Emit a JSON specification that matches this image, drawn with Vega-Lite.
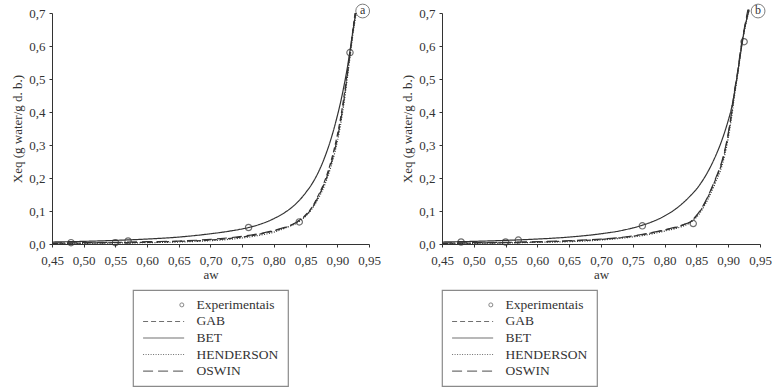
{
  "$schema": "https://vega.github.io/schema/vega-lite/v6.json",
  "background": "white",
  "padding": {"left": 11, "top": 2, "right": 5, "bottom": 0},
  "config": {
    "view": {"stroke": null},
    "font": "Liberation Serif",
    "axisX": {
      "grid": false, "domainColor": "#333", "tickColor": "#333", "tickSize": 3,
      "labelFont": "Liberation Serif", "labelFontSize": 13, "labelColor": "#333",
      "labelOverlap": false, "labelFlush": false, "labelPadding": 7,
      "titleFont": "Liberation Serif", "titleFontSize": 13, "titleFontWeight": "normal", "titleColor": "#333", "titlePadding": 1
    },
    "axisY": {
      "grid": false, "domainColor": "#333", "tickColor": "#333", "tickSize": 3,
      "labelFont": "Liberation Serif", "labelFontSize": 13, "labelColor": "#333",
      "labelOverlap": false, "labelFlush": false, "labelPadding": 4,
      "titleFont": "Liberation Serif", "titleFontSize": 13, "titleFontWeight": "normal", "titleColor": "#333", "titlePadding": 4
    },
    "text": {"font": "Liberation Serif", "fontSize": 13, "color": "#333"}
  },
  "datasets": {
    "curves": [
      {"p":"a","m":"BET","aw":0.45,"x":0.006},{"p":"a","m":"BET","aw":0.50,"x":0.008},{"p":"a","m":"BET","aw":0.55,"x":0.011},{"p":"a","m":"BET","aw":0.60,"x":0.015},{"p":"a","m":"BET","aw":0.65,"x":0.021},{"p":"a","m":"BET","aw":0.70,"x":0.031},{"p":"a","m":"BET","aw":0.73,"x":0.039},{"p":"a","m":"BET","aw":0.76,"x":0.050},{"p":"a","m":"BET","aw":0.78,"x":0.061},{"p":"a","m":"BET","aw":0.80,"x":0.077},{"p":"a","m":"BET","aw":0.82,"x":0.099},{"p":"a","m":"BET","aw":0.84,"x":0.132},{"p":"a","m":"BET","aw":0.85,"x":0.155},{"p":"a","m":"BET","aw":0.86,"x":0.182},{"p":"a","m":"BET","aw":0.87,"x":0.217},{"p":"a","m":"BET","aw":0.88,"x":0.262},{"p":"a","m":"BET","aw":0.89,"x":0.318},{"p":"a","m":"BET","aw":0.90,"x":0.388},{"p":"a","m":"BET","aw":0.905,"x":0.428},{"p":"a","m":"BET","aw":0.91,"x":0.474},{"p":"a","m":"BET","aw":0.915,"x":0.525},{"p":"a","m":"BET","aw":0.92,"x":0.585},{"p":"a","m":"BET","aw":0.925,"x":0.650},{"p":"a","m":"BET","aw":0.929,"x":0.700},

      {"p":"a","m":"GAB","aw":0.45,"x":0.002},{"p":"a","m":"GAB","aw":0.50,"x":0.003},{"p":"a","m":"GAB","aw":0.55,"x":0.004},{"p":"a","m":"GAB","aw":0.60,"x":0.005},{"p":"a","m":"GAB","aw":0.65,"x":0.008},{"p":"a","m":"GAB","aw":0.70,"x":0.012},{"p":"a","m":"GAB","aw":0.74,"x":0.019},{"p":"a","m":"GAB","aw":0.77,"x":0.027},{"p":"a","m":"GAB","aw":0.80,"x":0.040},{"p":"a","m":"GAB","aw":0.83,"x":0.060},{"p":"a","m":"GAB","aw":0.84,"x":0.072},{"p":"a","m":"GAB","aw":0.85,"x":0.088},{"p":"a","m":"GAB","aw":0.86,"x":0.111},{"p":"a","m":"GAB","aw":0.87,"x":0.147},{"p":"a","m":"GAB","aw":0.88,"x":0.190},{"p":"a","m":"GAB","aw":0.89,"x":0.250},{"p":"a","m":"GAB","aw":0.90,"x":0.330},{"p":"a","m":"GAB","aw":0.905,"x":0.380},{"p":"a","m":"GAB","aw":0.91,"x":0.440},{"p":"a","m":"GAB","aw":0.915,"x":0.510},{"p":"a","m":"GAB","aw":0.92,"x":0.580},{"p":"a","m":"GAB","aw":0.925,"x":0.655},{"p":"a","m":"GAB","aw":0.928,"x":0.700},

      {"p":"a","m":"HENDERSON","aw":0.45,"x":0.001},{"p":"a","m":"HENDERSON","aw":0.50,"x":0.002},{"p":"a","m":"HENDERSON","aw":0.55,"x":0.003},{"p":"a","m":"HENDERSON","aw":0.60,"x":0.004},{"p":"a","m":"HENDERSON","aw":0.65,"x":0.006},{"p":"a","m":"HENDERSON","aw":0.70,"x":0.010},{"p":"a","m":"HENDERSON","aw":0.74,"x":0.016},{"p":"a","m":"HENDERSON","aw":0.77,"x":0.024},{"p":"a","m":"HENDERSON","aw":0.80,"x":0.036},{"p":"a","m":"HENDERSON","aw":0.82,"x":0.050},{"p":"a","m":"HENDERSON","aw":0.84,"x":0.068},{"p":"a","m":"HENDERSON","aw":0.85,"x":0.084},{"p":"a","m":"HENDERSON","aw":0.86,"x":0.106},{"p":"a","m":"HENDERSON","aw":0.87,"x":0.138},{"p":"a","m":"HENDERSON","aw":0.88,"x":0.178},{"p":"a","m":"HENDERSON","aw":0.89,"x":0.235},{"p":"a","m":"HENDERSON","aw":0.90,"x":0.310},{"p":"a","m":"HENDERSON","aw":0.905,"x":0.360},{"p":"a","m":"HENDERSON","aw":0.91,"x":0.420},{"p":"a","m":"HENDERSON","aw":0.915,"x":0.490},{"p":"a","m":"HENDERSON","aw":0.92,"x":0.565},{"p":"a","m":"HENDERSON","aw":0.925,"x":0.640},{"p":"a","m":"HENDERSON","aw":0.93,"x":0.700},

      {"p":"a","m":"OSWIN","aw":0.45,"x":0.003},{"p":"a","m":"OSWIN","aw":0.50,"x":0.004},{"p":"a","m":"OSWIN","aw":0.55,"x":0.005},{"p":"a","m":"OSWIN","aw":0.60,"x":0.007},{"p":"a","m":"OSWIN","aw":0.65,"x":0.009},{"p":"a","m":"OSWIN","aw":0.70,"x":0.014},{"p":"a","m":"OSWIN","aw":0.74,"x":0.021},{"p":"a","m":"OSWIN","aw":0.77,"x":0.029},{"p":"a","m":"OSWIN","aw":0.80,"x":0.041},{"p":"a","m":"OSWIN","aw":0.83,"x":0.060},{"p":"a","m":"OSWIN","aw":0.84,"x":0.071},{"p":"a","m":"OSWIN","aw":0.85,"x":0.086},{"p":"a","m":"OSWIN","aw":0.86,"x":0.108},{"p":"a","m":"OSWIN","aw":0.87,"x":0.143},{"p":"a","m":"OSWIN","aw":0.88,"x":0.185},{"p":"a","m":"OSWIN","aw":0.89,"x":0.242},{"p":"a","m":"OSWIN","aw":0.90,"x":0.320},{"p":"a","m":"OSWIN","aw":0.905,"x":0.370},{"p":"a","m":"OSWIN","aw":0.91,"x":0.430},{"p":"a","m":"OSWIN","aw":0.915,"x":0.500},{"p":"a","m":"OSWIN","aw":0.92,"x":0.575},{"p":"a","m":"OSWIN","aw":0.925,"x":0.650},{"p":"a","m":"OSWIN","aw":0.929,"x":0.700},

      {"p":"b","m":"BET","aw":0.45,"x":0.006},{"p":"b","m":"BET","aw":0.50,"x":0.008},{"p":"b","m":"BET","aw":0.55,"x":0.011},{"p":"b","m":"BET","aw":0.60,"x":0.015},{"p":"b","m":"BET","aw":0.65,"x":0.021},{"p":"b","m":"BET","aw":0.70,"x":0.031},{"p":"b","m":"BET","aw":0.73,"x":0.040},{"p":"b","m":"BET","aw":0.765,"x":0.057},{"p":"b","m":"BET","aw":0.78,"x":0.067},{"p":"b","m":"BET","aw":0.80,"x":0.085},{"p":"b","m":"BET","aw":0.82,"x":0.110},{"p":"b","m":"BET","aw":0.84,"x":0.145},{"p":"b","m":"BET","aw":0.85,"x":0.166},{"p":"b","m":"BET","aw":0.86,"x":0.193},{"p":"b","m":"BET","aw":0.87,"x":0.226},{"p":"b","m":"BET","aw":0.88,"x":0.266},{"p":"b","m":"BET","aw":0.89,"x":0.314},{"p":"b","m":"BET","aw":0.90,"x":0.374},{"p":"b","m":"BET","aw":0.905,"x":0.410},{"p":"b","m":"BET","aw":0.91,"x":0.460},{"p":"b","m":"BET","aw":0.915,"x":0.520},{"p":"b","m":"BET","aw":0.92,"x":0.585},{"p":"b","m":"BET","aw":0.925,"x":0.645},{"p":"b","m":"BET","aw":0.933,"x":0.710},

      {"p":"b","m":"GAB","aw":0.45,"x":0.002},{"p":"b","m":"GAB","aw":0.50,"x":0.003},{"p":"b","m":"GAB","aw":0.55,"x":0.004},{"p":"b","m":"GAB","aw":0.60,"x":0.006},{"p":"b","m":"GAB","aw":0.65,"x":0.009},{"p":"b","m":"GAB","aw":0.70,"x":0.014},{"p":"b","m":"GAB","aw":0.74,"x":0.021},{"p":"b","m":"GAB","aw":0.77,"x":0.030},{"p":"b","m":"GAB","aw":0.80,"x":0.042},{"p":"b","m":"GAB","aw":0.83,"x":0.058},{"p":"b","m":"GAB","aw":0.84,"x":0.066},{"p":"b","m":"GAB","aw":0.85,"x":0.085},{"p":"b","m":"GAB","aw":0.86,"x":0.112},{"p":"b","m":"GAB","aw":0.87,"x":0.150},{"p":"b","m":"GAB","aw":0.88,"x":0.195},{"p":"b","m":"GAB","aw":0.89,"x":0.245},{"p":"b","m":"GAB","aw":0.90,"x":0.330},{"p":"b","m":"GAB","aw":0.905,"x":0.390},{"p":"b","m":"GAB","aw":0.91,"x":0.460},{"p":"b","m":"GAB","aw":0.915,"x":0.520},{"p":"b","m":"GAB","aw":0.92,"x":0.590},{"p":"b","m":"GAB","aw":0.925,"x":0.645},{"p":"b","m":"GAB","aw":0.932,"x":0.710},

      {"p":"b","m":"HENDERSON","aw":0.45,"x":0.001},{"p":"b","m":"HENDERSON","aw":0.50,"x":0.002},{"p":"b","m":"HENDERSON","aw":0.55,"x":0.003},{"p":"b","m":"HENDERSON","aw":0.60,"x":0.005},{"p":"b","m":"HENDERSON","aw":0.65,"x":0.007},{"p":"b","m":"HENDERSON","aw":0.70,"x":0.012},{"p":"b","m":"HENDERSON","aw":0.74,"x":0.019},{"p":"b","m":"HENDERSON","aw":0.77,"x":0.027},{"p":"b","m":"HENDERSON","aw":0.80,"x":0.039},{"p":"b","m":"HENDERSON","aw":0.83,"x":0.055},{"p":"b","m":"HENDERSON","aw":0.84,"x":0.064},{"p":"b","m":"HENDERSON","aw":0.85,"x":0.081},{"p":"b","m":"HENDERSON","aw":0.86,"x":0.107},{"p":"b","m":"HENDERSON","aw":0.87,"x":0.143},{"p":"b","m":"HENDERSON","aw":0.88,"x":0.186},{"p":"b","m":"HENDERSON","aw":0.89,"x":0.236},{"p":"b","m":"HENDERSON","aw":0.90,"x":0.320},{"p":"b","m":"HENDERSON","aw":0.905,"x":0.380},{"p":"b","m":"HENDERSON","aw":0.91,"x":0.450},{"p":"b","m":"HENDERSON","aw":0.915,"x":0.515},{"p":"b","m":"HENDERSON","aw":0.92,"x":0.585},{"p":"b","m":"HENDERSON","aw":0.925,"x":0.640},{"p":"b","m":"HENDERSON","aw":0.933,"x":0.710},

      {"p":"b","m":"OSWIN","aw":0.45,"x":0.003},{"p":"b","m":"OSWIN","aw":0.50,"x":0.004},{"p":"b","m":"OSWIN","aw":0.55,"x":0.005},{"p":"b","m":"OSWIN","aw":0.60,"x":0.007},{"p":"b","m":"OSWIN","aw":0.65,"x":0.010},{"p":"b","m":"OSWIN","aw":0.70,"x":0.015},{"p":"b","m":"OSWIN","aw":0.74,"x":0.022},{"p":"b","m":"OSWIN","aw":0.77,"x":0.031},{"p":"b","m":"OSWIN","aw":0.80,"x":0.043},{"p":"b","m":"OSWIN","aw":0.83,"x":0.059},{"p":"b","m":"OSWIN","aw":0.84,"x":0.067},{"p":"b","m":"OSWIN","aw":0.85,"x":0.086},{"p":"b","m":"OSWIN","aw":0.86,"x":0.114},{"p":"b","m":"OSWIN","aw":0.87,"x":0.152},{"p":"b","m":"OSWIN","aw":0.88,"x":0.198},{"p":"b","m":"OSWIN","aw":0.89,"x":0.250},{"p":"b","m":"OSWIN","aw":0.90,"x":0.335},{"p":"b","m":"OSWIN","aw":0.905,"x":0.395},{"p":"b","m":"OSWIN","aw":0.91,"x":0.465},{"p":"b","m":"OSWIN","aw":0.915,"x":0.525},{"p":"b","m":"OSWIN","aw":0.92,"x":0.595},{"p":"b","m":"OSWIN","aw":0.925,"x":0.650},{"p":"b","m":"OSWIN","aw":0.931,"x":0.710}
    ],
    "points": [
      {"p":"a","aw":0.48,"x":0.004},{"p":"a","aw":0.55,"x":0.004},{"p":"a","aw":0.57,"x":0.009},{"p":"a","aw":0.76,"x":0.050},{"p":"a","aw":0.84,"x":0.067},{"p":"a","aw":0.92,"x":0.580},
      {"p":"b","aw":0.48,"x":0.006},{"p":"b","aw":0.55,"x":0.006},{"p":"b","aw":0.57,"x":0.012},{"p":"b","aw":0.765,"x":0.055},{"p":"b","aw":0.845,"x":0.062},{"p":"b","aw":0.925,"x":0.613}
    ],
    "tags": [
      {"p":"a","tag":"a"},
      {"p":"b","tag":"b"}
    ],
    "legend": [
      {"label":"Experimentais","kind":"point"},
      {"label":"GAB","kind":"line"},
      {"label":"BET","kind":"line"},
      {"label":"HENDERSON","kind":"line"},
      {"label":"OSWIN","kind":"line"}
    ]
  },
  "columns": 2,
  "spacing": {"row": 46, "column": 73},
  "bounds": "flush",
  "center": true,
  "concat": [
    {
      "width": 317,
      "height": 231,
      "layer": [
        {
          "data": {"name": "curves"},
          "transform": [{"filter": "datum.p == 'a'"}],
          "mark": {"type": "line", "interpolate": "monotone", "strokeWidth": 1.2, "color": "#333"},
          "encoding": {
            "x": {"field": "aw", "type": "quantitative", "scale": {"domain": [0.45, 0.95], "nice": false},
                  "axis": {"title": "aw", "values": [0.45,0.5,0.55,0.6,0.65,0.7,0.75,0.8,0.85,0.9,0.95], "tickCount": 20, "labelExpr": "replace(format(datum.value, '.2f'), '.', ',')", "labelOverlap": false}},
            "y": {"field": "x", "type": "quantitative", "scale": {"domain": [0, 0.7], "nice": false},
                  "axis": {"title": "Xeq (g water/g d. b.)", "values": [0,0.1,0.2,0.3,0.4,0.5,0.6,0.7], "tickCount": 20, "labelExpr": "replace(format(datum.value, '.1f'), '.', ',')", "labelOverlap": false}},
            "strokeDash": {"field": "m", "type": "nominal", "legend": null,
                           "scale": {"domain": ["GAB","BET","HENDERSON","OSWIN"], "range": [[5,3],[1,0],[1,1.5],[10,5]]}}
          }
        },
        {
          "data": {"name": "points"},
          "transform": [{"filter": "datum.p == 'a'"}],
          "mark": {"type": "point", "shape": "circle", "filled": false, "size": 40, "stroke": "#333", "strokeWidth": 1.2},
          "encoding": {
            "x": {"field": "aw", "type": "quantitative"},
            "y": {"field": "x", "type": "quantitative"}
          }
        },
        {
          "data": {"name": "tags"},
          "transform": [{"filter": "datum.p == 'a'"}],
          "mark": {"type": "point", "shape": "circle", "filled": false, "size": 190, "stroke": "#333", "strokeWidth": 0.9},
          "encoding": {"x": {"datum": 0.94}, "y": {"datum": 0.706}}
        },
        {
          "data": {"name": "tags"},
          "transform": [{"filter": "datum.p == 'a'"}],
          "mark": {"type": "text", "fontSize": 12, "baseline": "middle", "align": "center", "dy": -1},
          "encoding": {"x": {"datum": 0.94}, "y": {"datum": 0.706}, "text": {"field": "tag"}}
        }
      ]
    },
    {
      "width": 318,
      "height": 231,
      "layer": [
        {
          "data": {"name": "curves"},
          "transform": [{"filter": "datum.p == 'b'"}],
          "mark": {"type": "line", "interpolate": "monotone", "strokeWidth": 1.2, "color": "#333"},
          "encoding": {
            "x": {"field": "aw", "type": "quantitative", "scale": {"domain": [0.45, 0.95], "nice": false},
                  "axis": {"title": "aw", "values": [0.45,0.5,0.55,0.6,0.65,0.7,0.75,0.8,0.85,0.9,0.95], "tickCount": 20, "labelExpr": "replace(format(datum.value, '.2f'), '.', ',')", "labelOverlap": false}},
            "y": {"field": "x", "type": "quantitative", "scale": {"domain": [0, 0.7], "nice": false},
                  "axis": {"title": "Xeq (g water/g d. b.)", "values": [0,0.1,0.2,0.3,0.4,0.5,0.6,0.7], "tickCount": 20, "labelExpr": "replace(format(datum.value, '.1f'), '.', ',')", "labelOverlap": false}},
            "strokeDash": {"field": "m", "type": "nominal", "legend": null,
                           "scale": {"domain": ["GAB","BET","HENDERSON","OSWIN"], "range": [[5,3],[1,0],[1,1.5],[10,5]]}}
          }
        },
        {
          "data": {"name": "points"},
          "transform": [{"filter": "datum.p == 'b'"}],
          "mark": {"type": "point", "shape": "circle", "filled": false, "size": 40, "stroke": "#333", "strokeWidth": 1.2},
          "encoding": {
            "x": {"field": "aw", "type": "quantitative"},
            "y": {"field": "x", "type": "quantitative"}
          }
        },
        {
          "data": {"name": "tags"},
          "transform": [{"filter": "datum.p == 'b'"}],
          "mark": {"type": "point", "shape": "circle", "filled": false, "size": 190, "stroke": "#333", "strokeWidth": 0.9},
          "encoding": {"x": {"datum": 0.947}, "y": {"datum": 0.706}}
        },
        {
          "data": {"name": "tags"},
          "transform": [{"filter": "datum.p == 'b'"}],
          "mark": {"type": "text", "fontSize": 12, "baseline": "middle", "align": "center", "dy": -1},
          "encoding": {"x": {"datum": 0.947}, "y": {"datum": 0.706}, "text": {"field": "tag"}}
        }
      ]
    },
    {
      "width": 155,
      "height": 96,
      "view": {"stroke": "#8a8a8a", "strokeWidth": 1.2},
      "data": {"name": "legend"},
      "encoding": {
        "y": {"field": "label", "type": "nominal", "axis": null,
              "scale": {"type": "point", "padding": 0.9, "domain": ["Experimentais","GAB","BET","HENDERSON","OSWIN"]}}
      },
      "layer": [
        {
          "transform": [{"filter": "datum.kind == 'line'"}],
          "mark": {"type": "rule", "color": "#707070", "strokeWidth": 1.1},
          "encoding": {
            "x": {"datum": 0.065, "type": "quantitative", "scale": {"domain": [0, 1]}, "axis": null},
            "x2": {"datum": 0.33},
            "strokeDash": {"field": "label", "type": "nominal", "legend": null,
                           "scale": {"domain": ["GAB","BET","HENDERSON","OSWIN"], "range": [[5,4],[1,0],[1,1],[13,8]]}}
          }
        },
        {
          "transform": [{"filter": "datum.kind == 'point'"}],
          "mark": {"type": "point", "shape": "circle", "filled": false, "size": 16, "stroke": "#555", "strokeWidth": 1},
          "encoding": {"x": {"datum": 0.315, "type": "quantitative"}}
        },
        {
          "mark": {"type": "text", "align": "left", "baseline": "middle", "fontSize": 13.5},
          "encoding": {"x": {"datum": 0.41, "type": "quantitative"}, "text": {"field": "label"}}
        }
      ]
    },
    {
      "width": 155,
      "height": 96,
      "view": {"stroke": "#8a8a8a", "strokeWidth": 1.2},
      "data": {"name": "legend"},
      "encoding": {
        "y": {"field": "label", "type": "nominal", "axis": null,
              "scale": {"type": "point", "padding": 0.9, "domain": ["Experimentais","GAB","BET","HENDERSON","OSWIN"]}}
      },
      "layer": [
        {
          "transform": [{"filter": "datum.kind == 'line'"}],
          "mark": {"type": "rule", "color": "#707070", "strokeWidth": 1.1},
          "encoding": {
            "x": {"datum": 0.065, "type": "quantitative", "scale": {"domain": [0, 1]}, "axis": null},
            "x2": {"datum": 0.33},
            "strokeDash": {"field": "label", "type": "nominal", "legend": null,
                           "scale": {"domain": ["GAB","BET","HENDERSON","OSWIN"], "range": [[5,4],[1,0],[1,1],[13,8]]}}
          }
        },
        {
          "transform": [{"filter": "datum.kind == 'point'"}],
          "mark": {"type": "point", "shape": "circle", "filled": false, "size": 16, "stroke": "#555", "strokeWidth": 1},
          "encoding": {"x": {"datum": 0.315, "type": "quantitative"}}
        },
        {
          "mark": {"type": "text", "align": "left", "baseline": "middle", "fontSize": 13.5},
          "encoding": {"x": {"datum": 0.41, "type": "quantitative"}, "text": {"field": "label"}}
        }
      ]
    }
  ]
}
